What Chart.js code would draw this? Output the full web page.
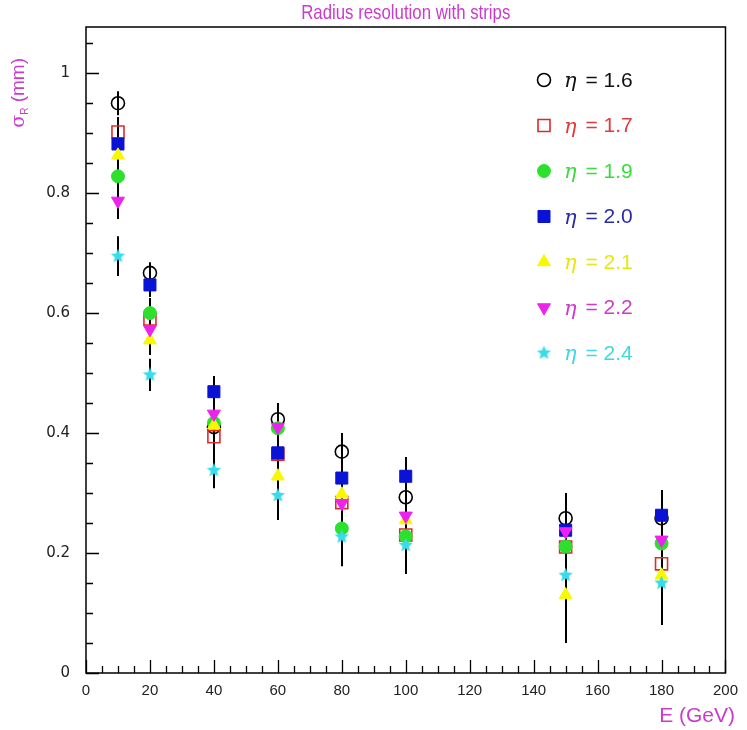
<!DOCTYPE html>
<html>
<head>
<meta charset="utf-8">
<script src="https://cdn.jsdelivr.net/npm/chart.js@4"></script>
<style>
  html, body { margin: 0; padding: 0; background: #fff; }
  #wrap { width: 747px; height: 730px; }
</style>
</head>
<body>
<div id="wrap"><canvas id="resChart" width="747" height="730"></canvas></div>
<script>
// Energies (GeV)
const energies = [10, 20, 40, 60, 80, 100, 150, 180];

// sigma_R (mm) per eta bin
const sigEta16 = [0.950, 0.667, 0.410, 0.423, 0.369, 0.293, 0.258, 0.258];
const sigEta17 = [0.902, 0.590, 0.394, 0.365, 0.284, 0.230, 0.210, 0.182];
const sigEta19 = [0.828, 0.600, 0.417, 0.408, 0.241, 0.228, 0.211, 0.216];
const sigEta20 = [0.882, 0.647, 0.469, 0.367, 0.325, 0.328, 0.238, 0.263];
const sigEta21 = [0.863, 0.555, 0.413, 0.328, 0.298, 0.255, 0.130, 0.163];
const sigEta22 = [0.787, 0.573, 0.432, 0.410, 0.283, 0.262, 0.236, 0.222];
const sigEta24 = [0.695, 0.497, 0.338, 0.296, 0.227, 0.213, 0.163, 0.150];

// errors on sigma_R
const errEta16 = [0.020, 0.018, 0.030, 0.027, 0.031, 0.030, 0.042, 0.045];
const errEta17 = [0.025, 0.025, 0.030, 0.035, 0.035, 0.040, 0.050, 0.050];
const errEta19 = [0.025, 0.025, 0.030, 0.035, 0.040, 0.045, 0.050, 0.055];
const errEta20 = [0.025, 0.020, 0.026, 0.030, 0.032, 0.032, 0.045, 0.042];
const errEta21 = [0.025, 0.025, 0.030, 0.040, 0.040, 0.045, 0.080, 0.083];
const errEta22 = [0.030, 0.025, 0.030, 0.035, 0.040, 0.045, 0.050, 0.050];
const errEta24 = [0.033, 0.027, 0.030, 0.041, 0.049, 0.048, 0.070, 0.070];

const etaLabels = ['1.6', '1.7', '1.9', '2.0', '2.1', '2.2', '2.4'];

const magenta = '#cc3acc';
const sans = '"Liberation Sans", Arial, sans-serif';

// filled five point star for the eta = 2.4 marker
function makeStar(color, size) {
    const c = document.createElement('canvas');
    c.width = size; c.height = size;
    const g = c.getContext('2d');
    const cx = size / 2, cy = size / 2, ro = size / 2, ri = ro * 0.45;
    g.beginPath();
    for (let i = 0; i < 10; i++) {
        const r = i % 2 === 0 ? ro : ri;
        const a = -Math.PI / 2 + i * Math.PI / 5;
        g.lineTo(cx + r * Math.cos(a), cy + r * Math.sin(a));
    }
    g.closePath();
    g.fillStyle = color;
    g.fill();
    return c;
}
const starImg = makeStar('#38dcea', 15);

function pts(ys) {
    return energies.map((e, i) => ({ x: e, y: ys[i] }));
}

const series = [
    { ys: sigEta16, err: errEta16, style: 'circle', radius: 6.5, rotation: 0, bg: 'rgba(0,0,0,0)', border: '#000', bw: 1.6, text: '#111' },
    { ys: sigEta17, err: errEta17, style: 'rect', radius: 8.5, rotation: 0, bg: 'rgba(0,0,0,0)', border: '#dd2a2a', bw: 1.6, text: '#e03a3a' },
    { ys: sigEta19, err: errEta19, style: 'circle', radius: 6.5, rotation: 0, bg: '#2ee02e', border: '#2ee02e', bw: 1, text: '#3ddc3d' },
    { ys: sigEta20, err: errEta20, style: 'rect', radius: 8.5, rotation: 0, bg: '#0a12d6', border: '#0a12d6', bw: 1, text: '#2a2aa8' },
    { ys: sigEta21, err: errEta21, style: 'triangle', radius: 7.5, rotation: 0, bg: '#f8f800', border: '#f8f800', bw: 1, text: '#e6e610' },
    { ys: sigEta22, err: errEta22, style: 'triangle', radius: 7.5, rotation: 180, bg: '#ee22ee', border: '#ee22ee', bw: 1, text: magenta },
    { ys: sigEta24, err: errEta24, style: starImg, radius: 7.5, rotation: 0, bg: '#38dcea', border: '#38dcea', bw: 1, text: '#40d8e0' }
];

const datasets = series.map((s, i) => ({
    label: 'η = ' + etaLabels[i],
    data: pts(s.ys),
    errors: s.err,
    pointStyle: s.style,
    pointRadius: s.radius,
    pointRotation: s.rotation,
    pointBackgroundColor: s.bg,
    pointBorderColor: s.border,
    pointBorderWidth: s.bw,
    showLine: false,
    order: series.length - i   // later eta drawn on top
}));

// error bars, inner ticks, frame, titles and legend
const decorations = {
    id: 'decorations',
    beforeDatasetsDraw(chart) {
        const ctx = chart.ctx;
        const xs = chart.scales.x, ys = chart.scales.y;
        ctx.save();
        ctx.strokeStyle = '#000';
        ctx.lineWidth = 2;
        chart.data.datasets.forEach(ds => {
            ds.data.forEach((p, i) => {
                const px = Math.round(xs.getPixelForValue(p.x));
                ctx.beginPath();
                ctx.moveTo(px, ys.getPixelForValue(p.y + ds.errors[i]));
                ctx.lineTo(px, ys.getPixelForValue(p.y - ds.errors[i]));
                ctx.stroke();
            });
        });
        ctx.restore();
    },
    afterDraw(chart) {
        const ctx = chart.ctx;
        const a = chart.chartArea;
        const xs = chart.scales.x, ys = chart.scales.y;
        ctx.save();
        ctx.strokeStyle = '#000';
        ctx.lineWidth = 1.5;
        ctx.strokeRect(a.left, a.top, a.right - a.left, a.bottom - a.top);

        // ticks inside the frame
        ctx.lineWidth = 1.3;
        ctx.beginPath();
        for (let v = 0; v <= 200.001; v += 5) {
            const px = Math.round(xs.getPixelForValue(v)) + 0.5;
            const len = (Math.round(v) % 20 === 0) ? 13 : 7;
            ctx.moveTo(px, a.bottom);
            ctx.lineTo(px, a.bottom - len);
        }
        for (let k = 0; k <= 21; k++) {
            const v = k * 0.05;
            const py = Math.round(ys.getPixelForValue(v)) + 0.5;
            const len = (k % 4 === 0) ? 13 : 7;
            ctx.moveTo(a.left, py);
            ctx.lineTo(a.left + len, py);
        }
        ctx.stroke();

        // titles
        ctx.fillStyle = magenta;
        ctx.textBaseline = 'alphabetic';
        ctx.save();
        ctx.translate((a.left + a.right) / 2, 19);
        ctx.scale(0.8, 1);
        ctx.font = '21px ' + sans;
        ctx.textAlign = 'center';
        ctx.fillText('Radius resolution with strips', 0, 0);
        ctx.restore();

        ctx.font = '21px ' + sans;
        ctx.textAlign = 'right';
        ctx.fillText('E (GeV)', 735, 722);

        ctx.translate(24, 58);
        ctx.rotate(-Math.PI / 2);
        ctx.textAlign = 'left';
        ctx.font = '19px ' + sans;
        const yt = ' (mm)';
        const wt = ctx.measureText(yt).width;
        ctx.font = '19px "DejaVu Serif", serif';
        const ws = ctx.measureText('σ').width;
        ctx.font = '10px ' + sans;
        const wr = ctx.measureText('R').width;
        let x0 = -(wt + ws + wr);
        ctx.font = '19px "DejaVu Serif", serif';
        ctx.fillText('σ', x0, 0);
        x0 += ws;
        ctx.font = '10px ' + sans;
        ctx.fillText('R', x0, 4);
        x0 += wr;
        ctx.font = '19px ' + sans;
        ctx.fillText(yt, x0, 0);
        ctx.restore();

        // legend
        ctx.save();
        series.forEach((s, i) => {
            const ly = 80 + i * 45.5;
            ctx.fillStyle = s.bg;
            ctx.strokeStyle = s.border;
            ctx.lineWidth = s.bw;
            Chart.helpers.drawPoint(ctx, { pointStyle: s.style, radius: s.radius, rotation: s.rotation, borderWidth: s.bw }, 544, ly);
            ctx.fillStyle = s.text;
            ctx.textBaseline = 'middle';
            ctx.textAlign = 'left';
            ctx.font = 'italic 21px "DejaVu Serif", serif';
            ctx.fillText('η', 564, ly + 2);
            const we = ctx.measureText('η').width;
            ctx.font = '21px ' + sans;
            ctx.fillText(' = ' + etaLabels[i], 564 + we + 3, ly + 1);
        });
        ctx.restore();
    }
};

const ctx = document.getElementById('resChart').getContext('2d');

new Chart(ctx, {
    type: 'scatter',
    data: { datasets: datasets },
    options: {
        responsive: false,
        animation: false,
        layout: { padding: { left: 0, top: 27, right: 19, bottom: 0 } },
        plugins: {
            legend: { display: false },
            tooltip: { enabled: false },
            title: { display: false }
        },
        scales: {
            x: {
                type: 'linear',
                min: 0,
                max: 200,
                grid: { display: false, drawTicks: false },
                border: { display: false },
                ticks: {
                    stepSize: 20,
                    padding: 9,
                    color: '#222',
                    font: { family: sans, size: 15 },
                    maxRotation: 0
                },
                afterFit(scale) { scale.height = 57; }
            },
            y: {
                type: 'linear',
                min: 0,
                max: 1.077,
                grid: { display: false, drawTicks: false },
                border: { display: false },
                ticks: {
                    stepSize: 0.2,
                    includeBounds: false,
                    padding: 16,
                    color: '#222',
                    font: { family: '"DejaVu Sans", sans-serif', size: 15 },
                    callback: v => String(+v.toFixed(2))
                },
                afterFit(scale) { scale.width = 86; }
            }
        }
    },
    plugins: [decorations]
});
</script>
</body>
</html>
